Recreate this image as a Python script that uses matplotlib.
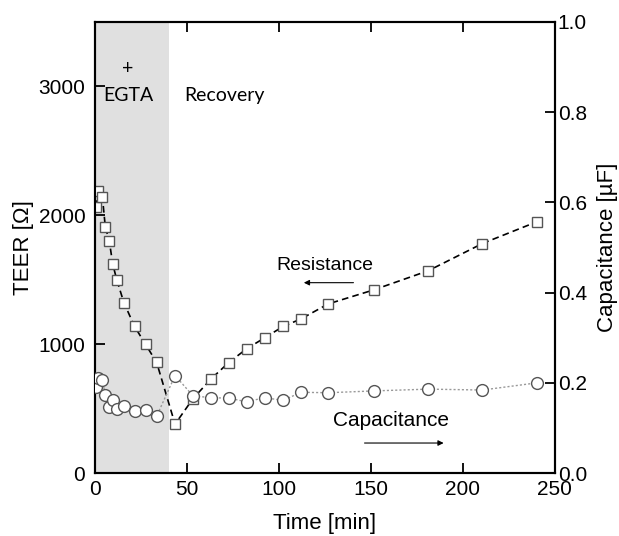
import matplotlib
matplotlib.use("Agg")
import matplotlib.pyplot as plt

plt.rcParams['font.family'] = ['Liberation Sans', 'DejaVu Sans']

# time points [min]
time = [0.5, 1.8, 4.0, 5.6, 7.8, 9.6, 11.8, 15.7, 21.5, 27.5, 33.5, 43.5,
        53.3, 63.2, 72.6, 82.4, 92.2, 102.2, 112, 126.7, 151.5, 181.2, 210.6, 240.4]
# TEER [Ohm]
teer = [2065, 2189, 2142, 1910, 1797, 1624, 1500, 1322, 1137, 998, 858, 379,
        578, 732, 856, 964, 1049, 1137, 1196, 1312, 1421, 1570, 1781, 1951]
# capacitance [uF]
cap = [0.19, 0.21, 0.206, 0.173, 0.146, 0.162, 0.143, 0.149, 0.138, 0.14, 0.126, 0.216,
       0.171, 0.167, 0.166, 0.158, 0.167, 0.161, 0.179, 0.178, 0.182, 0.186, 0.184, 0.20]

egta_end = 40

fig = plt.figure(figsize=(6.19, 5.36), dpi=100)
ax = fig.add_axes([0.1535, 0.1175, 0.743, 0.8415])
ax2 = ax.twinx()

ax.axvspan(0, egta_end, color='#e0e0e0', lw=0, zorder=0)

ax.plot(time, teer, ls=(0, (4, 2.5)), color='black', lw=1.2, marker='s', ms=7.5,
        mfc='white', mec='#555555', mew=1.0, zorder=3)
ax2.plot(time, cap, ls=(0, (1.5, 1.5)), color='#999999', lw=1.0, marker='o', ms=8.5,
         mfc='white', mec='#555555', mew=1.0, zorder=3)

ax.set_xlim(0, 250)
ax.set_ylim(0, 3500)
ax2.set_ylim(0, 1.0)
ax.set_xticks([0, 50, 100, 150, 200, 250])
ax.set_yticks([0, 1000, 2000, 3000])
ax2.set_yticks([0, 0.2, 0.4, 0.6, 0.8, 1.0])
ax2.set_yticklabels(['0.0', '0.2', '0.4', '0.6', '0.8', '1.0'])

ax.tick_params(axis='x', direction='in', top=True, length=7, width=1.3, labelsize=15, pad=5)
ax.tick_params(axis='y', direction='in', length=7, width=1.3, labelsize=15, pad=7)
ax2.tick_params(axis='y', direction='in', length=7, width=1.3, labelsize=15, pad=2)
for a in (ax, ax2):
    for s in a.spines.values():
        s.set_linewidth(1.5)

ax.set_xlabel('Time [min]', fontsize=16, labelpad=10)
ax.set_ylabel('TEER [Ω]', fontsize=16, labelpad=3)
ax2.set_ylabel('Capacitance [µF]', fontsize=16, labelpad=7)

txt = dict(family=['Lato', 'DejaVu Sans'], fontsize=14, ha='center', va='center')
ax.text(18, 3140, '+', **txt)
ax.text(18, 2930, 'EGTA', **txt)
ax.text(70.5, 2930, 'Recovery', **txt)

ax.text(125, 1610, 'Resistance', fontsize=14, ha='center', va='center')
ax.annotate('', xy=(112, 1477), xytext=(142, 1477),
            arrowprops=dict(arrowstyle='-|>', color='black', lw=0.8, mutation_scale=8))
ax2.text(161, 0.1175, 'Capacitance', fontsize=15, ha='center', va='center')
ax2.annotate('', xy=(191, 0.0665), xytext=(145, 0.0665),
             arrowprops=dict(arrowstyle='-|>', color='black', lw=0.8, mutation_scale=8))

fig.savefig('out.png', dpi=100)
